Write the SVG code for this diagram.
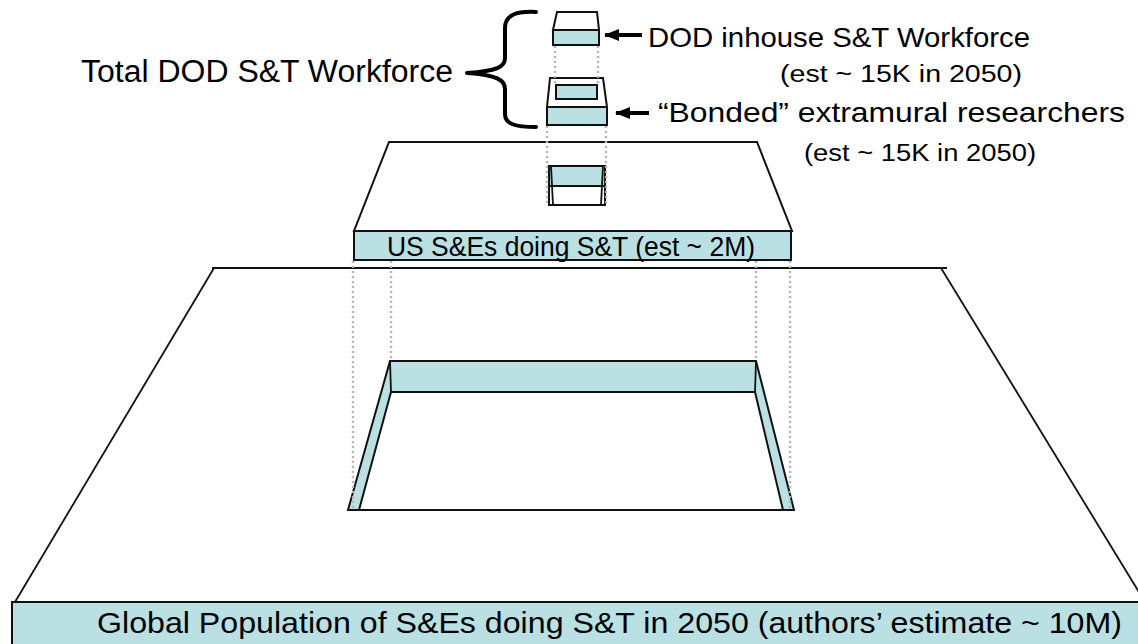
<svg xmlns="http://www.w3.org/2000/svg" width="1138" height="644" viewBox="0 0 1138 644">
<defs>
<style>
.teal{fill:#BBE0E3;stroke:#111;stroke-width:2}
.wht{fill:#fff;stroke:#111;stroke-width:2}
.ln{fill:none;stroke:#111;stroke-width:1.8}
.dot{fill:none;stroke:#B4B4B4;stroke-width:2.4;stroke-dasharray:2 3}
.arr{stroke:#000;stroke-width:4;fill:none}
.t{font-family:"Liberation Sans",Arial,sans-serif;fill:#000}
</style>
<marker id="ah" markerUnits="userSpaceOnUse" markerWidth="15" markerHeight="15" viewBox="0 0 15 15" refX="14" refY="7.5" orient="auto">
<path d="M0,1.5 L15,7.5 L0,13.5 Z" fill="#000"/>
</marker>
</defs>
<rect width="1138" height="644" fill="#fff"/>

<g id="global-platform">
<path class="ln" d="M212,268 L947,268"/>
<path class="ln" d="M214,268 L15,602"/>
<path class="ln" d="M941,268 L1145,602"/>
<polygon class="teal" points="390,361 756,361 794,510 348,510"/>
<polygon class="wht" points="391,392 755,392 783,510 359,510"/>
<path class="ln" d="M390,361 L391,392 M756,361 L755,392"/>
<rect class="teal" x="12" y="602" width="1130" height="46"/>
<text class="t" x="97" y="633" font-size="29" textLength="1025" lengthAdjust="spacingAndGlyphs">Global Population of S&amp;Es doing S&amp;T in 2050 (authors’ estimate ~ 10M)</text>
</g>

<g id="us-platform">
<polygon class="wht" points="389,142 757,142 792,231 354,231"/>
<rect class="teal" x="549" y="166" width="56" height="20"/>
<rect class="wht" x="549" y="186" width="56" height="19"/>
<path class="ln" d="M551,166 L553,205 M603,166 L601,205" stroke-width="1.2"/>
<rect class="teal" x="354" y="231" width="437" height="29"/>
<text class="t" x="387" y="256" font-size="27" textLength="368" lengthAdjust="spacingAndGlyphs">US S&amp;Es doing S&amp;T (est ~ 2M)</text>
</g>

<g id="bonded">
<polygon class="wht" points="550,78 603,78 607,107 547,107"/>
<rect class="teal" x="556" y="85" width="41" height="14"/>
<rect class="teal" x="547" y="107" width="60" height="18"/>
<text class="t" x="658" y="122" font-size="28" textLength="467" lengthAdjust="spacingAndGlyphs">“Bonded” extramural researchers</text>
<text class="t" x="804" y="161" font-size="23" textLength="232" lengthAdjust="spacingAndGlyphs">(est ~ 15K in 2050)</text>
</g>

<g id="dod-inhouse">
<polygon class="wht" points="557,12 597,12 599,30 553,30"/>
<rect class="teal" x="553" y="30" width="46" height="15"/>
<text class="t" x="648" y="47" font-size="28" textLength="382" lengthAdjust="spacingAndGlyphs">DOD inhouse S&amp;T Workforce</text>
<text class="t" x="780" y="82" font-size="23" textLength="242" lengthAdjust="spacingAndGlyphs">(est ~ 15K in 2050)</text>
</g>

<g id="total-dod">
<path d="M536,12 C516,11 505,15 505,28 L505,58 C505,67 497,71 467,73 C497,75 505,80 505,89 L505,114 C505,124 515,127 536,127" fill="none" stroke="#000" stroke-width="4" stroke-linecap="round" stroke-linejoin="round"/>
<text class="t" x="81" y="82" font-size="31" textLength="372" lengthAdjust="spacingAndGlyphs">Total DOD S&amp;T Workforce</text>
</g>

<g id="connectors">
<path class="dot" d="M555,46 L555,84 M598,46 L598,84"/>
<path class="dot" d="M547,126 L547,205 M606,126 L606,205"/>
<path class="dot" d="M353,261 L353,510 M790,261 L790,510"/>
<path class="dot" d="M391,261 L391,360 M756,261 L756,360"/>
<line class="arr" x1="642" y1="35" x2="605" y2="35" marker-end="url(#ah)"/>
<line class="arr" x1="649" y1="113" x2="616" y2="113" marker-end="url(#ah)"/>
</g>
</svg>
